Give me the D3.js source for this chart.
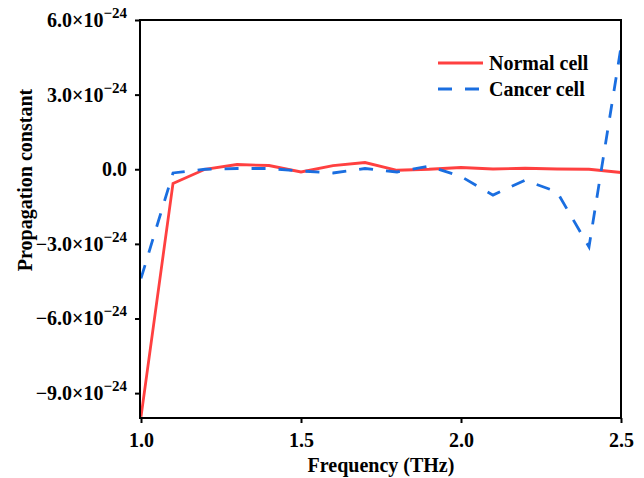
<!DOCTYPE html>
<html><head><meta charset="utf-8">
<script src="https://cdn.jsdelivr.net/npm/d3@7/dist/d3.min.js"></script>
<style>body{margin:0;background:#fff}svg{display:block}text{font-family:"Liberation Serif","Times New Roman",serif;font-weight:bold;fill:#000}</style>
</head><body><svg id="c" width="644" height="478"></svg>
<script>
const frequency = [1.0,1.1,1.2,1.3,1.4,1.5,1.6,1.7,1.8,1.9,2.0,2.1,2.2,2.3,2.4,2.5];
const normalCell = [-9.95,-0.57,0.0,0.19,0.15,-0.11,0.15,0.27,-0.04,0.0,0.07,0.01,0.04,0.01,0.0,-0.13];
const cancerCell = [-4.39,-0.15,0.0,0.03,0.03,-0.07,-0.15,0.03,-0.11,0.12,-0.29,-1.04,-0.44,-0.91,-3.12,4.91];
const xTicks = [1.0,1.5,2.0,2.5];
const yTicks = [-9,-6,-3,0,3,6];
const seriesNames = ["Normal cell","Cancer cell"];

const svg = d3.select("#c");
const L=141, R=621, T=20, B=418;
const x = d3.scaleLinear().domain([1.0,2.5]).range([L,R]);
const y = d3.scaleLinear().domain([-10,6]).range([B,T]);
const DASH = "14,13";

svg.append("clipPath").attr("id","cp").append("rect")
  .attr("x",L-1).attr("y",T).attr("width",R-L+2).attr("height",B-T);

const line = d3.line().x((d,i)=>x(frequency[i])).y(d=>y(d));
const g = svg.append("g").attr("clip-path","url(#cp)");
g.append("path").datum(normalCell).attr("d",line).attr("fill","none")
  .attr("stroke","#ff4040").attr("stroke-width",2.8);
g.append("path").datum(cancerCell).attr("d",line).attr("fill","none")
  .attr("stroke","#1a6ee0").attr("stroke-width",2.8).attr("stroke-dasharray",DASH);

// frame
svg.append("rect").attr("x",L-1).attr("y",T).attr("width",R-L+1).attr("height",B-T)
  .attr("fill","none").attr("stroke","#000").attr("stroke-width",2);

// x axis
const xa = svg.append("g").attr("transform",`translate(0,${B})`)
  .call(d3.axisBottom(x).tickValues(xTicks).tickFormat(d3.format(".1f")).tickSize(5).tickPadding(6));
xa.select(".domain").remove();
xa.selectAll("line").attr("stroke-width",2);
xa.selectAll("text").attr("font-size",20).attr("dy","0.9em");

// y axis
const ya = svg.append("g").attr("transform",`translate(${L-1},0)`)
  .call(d3.axisLeft(y).tickValues(yTicks).tickSize(5).tickPadding(6).tickFormat(""));
ya.select(".domain").remove();
ya.selectAll("line").attr("stroke-width",2);
ya.selectAll(".tick").each(function(d){
  const t = d3.select(this).append("text").attr("x",-13).attr("dy","0.32em")
    .attr("text-anchor","end").attr("font-size",20);
  if (d===0) { t.text("0.0"); return; }
  t.append("tspan").text((d<0?"\u2212":"")+Math.abs(d).toFixed(1)+"\u00d710");
  t.append("tspan").attr("font-size",15).attr("dy","-0.6em").text("\u221224");
});

// axis titles
svg.append("text").attr("x",(L+R)/2).attr("y",472).attr("text-anchor","middle")
  .attr("font-size",20).text("Frequency (THz)");
svg.append("text").attr("transform","translate(32,180) rotate(-90)")
  .attr("text-anchor","middle").attr("font-size",20).text("Propagation constant");

// legend
const leg = svg.append("g");
const colors=["#ff4040","#1a6ee0"], dashes=[null,DASH];
seriesNames.forEach((n,i)=>{
  const yy = 63 + i*26;
  leg.append("line").attr("x1",438).attr("x2",483).attr("y1",yy).attr("y2",yy)
    .attr("stroke",colors[i]).attr("stroke-width",2.8).attr("stroke-dasharray",dashes[i]);
  leg.append("text").attr("x",489).attr("y",yy).attr("dy","0.35em").attr("font-size",20).text(n);
});
</script></body></html>
